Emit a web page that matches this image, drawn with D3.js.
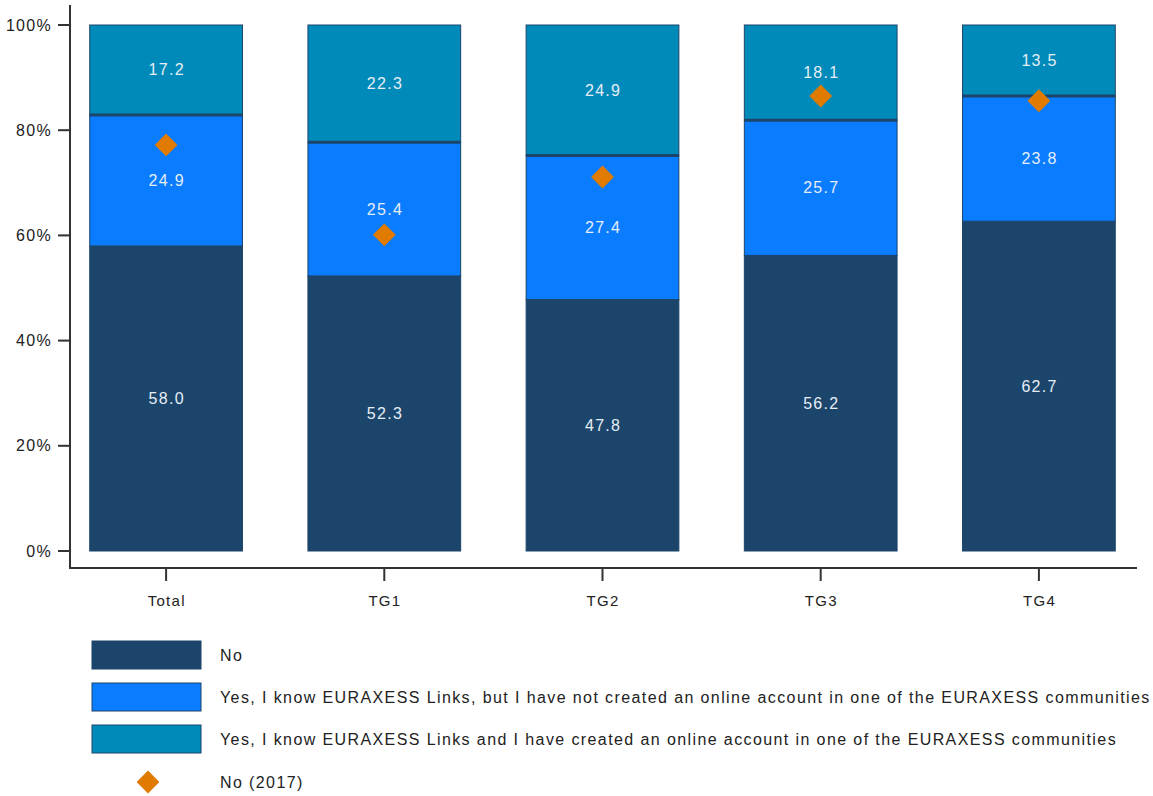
<!DOCTYPE html>
<html><head><meta charset="utf-8">
<script src="https://cdn.jsdelivr.net/npm/d3@7"></script>
<style>body{margin:0;background:#fff;}svg{display:block;font-family:"Liberation Sans",Arial,sans-serif;}text{letter-spacing:1.3px;}text.leg{letter-spacing:1.4px;}</style>
</head><body><svg id="c" width="1153" height="796"></svg>
<script>
const categories = ["Total","TG1","TG2","TG3","TG4"];
const seriesNames = ["No",
  "Yes, I know EURAXESS Links, but I have not created an online account in one of the EURAXESS communities",
  "Yes, I know EURAXESS Links and I have created an online account in one of the EURAXESS communities"];
const noValues = [58.0, 52.3, 47.8, 56.2, 62.7];
const yesNoAccount = [24.9, 25.4, 27.4, 25.7, 23.8];
const yesAccount = [17.2, 22.3, 24.9, 18.1, 13.5];
const no2017 = [77.2, 60.1, 71.1, 86.5, 85.6];
const yTicks = [0, 20, 40, 60, 80, 100];
const colors = ["#1c456b", "#0a7cff", "#008ab9"];
const diamondColor = "#e07b00";

const svg = d3.select("#c");
const x = d3.scaleBand().domain(categories).range([57, 1148]).paddingInner(0.3).paddingOuter(0.15);
const y = d3.scaleLinear().domain([0, 100]).range([551, 25]);

const series = [noValues, yesNoAccount, yesAccount];
const rows = categories.map((c, i) => ({cat: c, v: series.map(s => s[i])}));

rows.forEach(r => {
  let base = 0;
  r.v.forEach((val, k) => {
    const y0 = base, y1 = Math.min(base + val, 100); base = base + val;
    svg.append("rect").attr("x", x(r.cat)).attr("width", x.bandwidth())
      .attr("y", y(y1)).attr("height", y(y0) - y(y1))
      .attr("fill", colors[k]).attr("stroke", "#1c456b").attr("stroke-width", 1);
  });
  const b = r.v[0] + r.v[1];
  svg.append("line").attr("x1", x(r.cat)).attr("x2", x(r.cat) + x.bandwidth())
    .attr("y1", y(b)).attr("y2", y(b)).attr("stroke", "#1c456b").attr("stroke-width", 3);
  base = 0;
  r.v.forEach((val, k) => {
    const mid = base + val / 2; base += val;
    svg.append("text").attr("x", x(r.cat) + x.bandwidth()/2 + 0.65).attr("y", y(mid)).attr("dy", "0.35em")
      .attr("text-anchor", "middle").attr("fill", "#e6eef6").attr("font-size", 16).text(val.toFixed(1));
  });
});

const sym = d3.symbol().type(d3.symbolSquare).size(260);
categories.forEach((c, i) => {
  svg.append("path").attr("d", sym())
    .attr("transform", `translate(${x(c)+x.bandwidth()/2},${y(no2017[i])}) rotate(45)`)
    .attr("fill", diamondColor);
});

const axColor = "#333";
svg.append("line").attr("x1", 70).attr("x2", 70).attr("y1", 5).attr("y2", 568).attr("stroke", axColor).attr("stroke-width", 2);
svg.append("line").attr("x1", 69).attr("x2", 1137).attr("y1", 568).attr("y2", 568).attr("stroke", axColor).attr("stroke-width", 2);
yTicks.forEach(t => {
  svg.append("line").attr("x1", 58).attr("x2", 70).attr("y1", y(t)).attr("y2", y(t)).attr("stroke", axColor).attr("stroke-width", 2);
  svg.append("text").attr("x", 52).attr("y", y(t)).attr("dy", "0.35em").attr("text-anchor", "end")
    .attr("font-size", 16).attr("fill", "#222").text(t + "%");
});
categories.forEach(c => {
  const cx = x(c) + x.bandwidth()/2;
  svg.append("line").attr("x1", cx).attr("x2", cx).attr("y1", 568).attr("y2", 581).attr("stroke", axColor).attr("stroke-width", 2);
  svg.append("text").attr("x", cx + 0.65).attr("y", 601).attr("dy", "0.35em").attr("text-anchor", "middle")
    .attr("font-size", 15).attr("fill", "#222").text(c);
});

const legY = [655, 697, 739];
seriesNames.forEach((n, k) => {
  svg.append("rect").attr("x", 92).attr("y", legY[k] - 14).attr("width", 109).attr("height", 28)
    .attr("fill", colors[k]).attr("stroke", "#1c456b").attr("stroke-width", 1);
  svg.append("text").attr("class", "leg").attr("x", 220).attr("y", legY[k]).attr("dy", "0.35em").attr("font-size", 16).attr("fill", "#222").text(n);
});
svg.append("path").attr("d", sym()).attr("transform", "translate(148,782) rotate(45)").attr("fill", diamondColor);
svg.append("text").attr("class", "leg").attr("x", 220).attr("y", 782).attr("dy", "0.35em").attr("font-size", 16).attr("fill", "#222").text("No (2017)");
</script></body></html>
